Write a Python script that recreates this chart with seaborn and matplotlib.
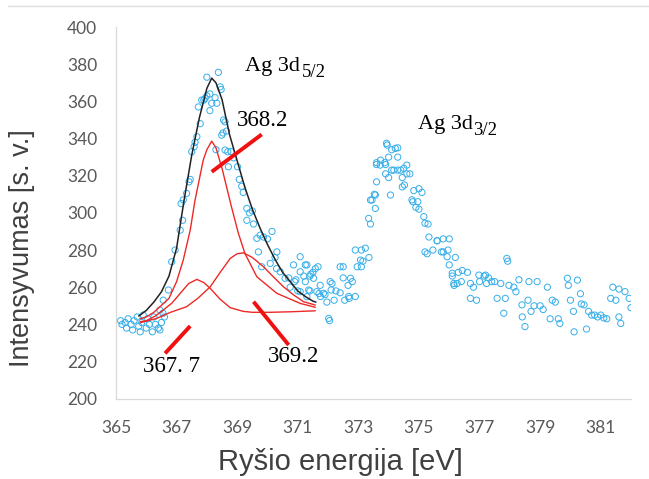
import numpy as np
import pandas as pd
import matplotlib
matplotlib.use("Agg")
import matplotlib.pyplot as plt
import seaborn as sns
from matplotlib.lines import Line2D

# ---- measured points (binding energy, intensity) ----
pts_x = [
    365.15, 365.2, 365.3, 365.35, 365.4, 365.5, 365.55, 365.6, 365.7, 365.75, 365.8, 365.85, 365.9,
    366.0, 366.05, 366.1, 366.2, 366.25, 366.3, 366.4, 366.45, 366.5, 366.55, 366.6,
    366.45, 366.56, 366.73, 366.84, 366.95, 367.12, 367.2, 367.15, 367.22, 367.33, 367.41, 367.45,
    367.5, 367.58, 367.61, 367.67, 367.72, 367.78, 367.83, 367.9, 367.94, 368.0, 368.0, 368.1,
    368.1, 368.16, 368.27, 368.3, 368.33, 368.38, 368.44, 368.47, 368.49, 368.53, 368.55, 368.6,
    368.6, 368.65, 368.69, 368.71, 368.8, 368.88, 369.01, 369.07, 369.15, 369.2, 369.32, 369.32,
    369.4, 369.5, 369.54, 369.65, 369.7, 369.76, 369.81, 369.87, 370.0, 370.09, 370.15, 370.25,
    370.3, 370.31, 370.42, 370.58, 370.7, 370.75, 370.86, 370.9, 370.94, 371.0, 371.08, 371.08,
    371.08, 371.2, 371.25, 371.25, 371.3, 371.3, 371.36, 371.4, 371.4, 371.43, 371.5, 371.52,
    371.58, 371.63, 371.67, 371.7, 371.74, 371.75, 371.85, 371.9, 371.96, 372.02, 372.05, 372.07,
    372.1, 372.13, 372.2, 372.26, 372.4, 372.4, 372.5, 372.5, 372.55, 372.66, 372.68, 372.7,
    372.74, 372.8, 372.9, 372.9, 372.96, 373.07, 373.1, 373.1, 373.15, 373.23, 373.35, 373.34,
    373.4, 373.4, 373.45, 373.53, 373.56, 373.56, 373.6, 373.6, 373.6, 373.72, 373.73, 373.87,
    373.9, 373.9, 373.93, 373.95, 374.0, 374.0, 374.06, 374.1, 374.1, 374.17, 374.22, 374.3,
    374.3, 374.3, 374.4, 374.45, 374.45, 374.5, 374.52, 374.6, 374.6, 374.7, 374.77, 374.8,
    374.83, 374.9, 374.96, 375.0, 375.0, 375.1, 375.16, 375.2, 375.2, 375.27, 375.3, 375.33,
    375.46, 375.6, 375.6, 375.74, 375.8, 375.8, 375.93, 375.96, 376.0, 376.0, 376.1, 376.1,
    376.15, 376.16, 376.2, 376.26, 376.3, 376.4, 376.43, 376.6, 376.7, 376.7, 376.8, 376.9,
    376.98, 377.0, 377.15, 377.2, 377.23, 377.3, 377.4, 377.5, 377.58, 377.7, 377.8, 377.85,
    377.9, 377.93, 377.97, 378.13, 378.2, 378.3, 378.4, 378.41, 378.5, 378.6, 378.63, 378.7,
    378.8, 378.9, 379.0, 379.1, 379.24, 379.33, 379.4, 379.5, 379.6, 379.65, 379.9, 379.93,
    380.0, 380.1, 380.12, 380.23, 380.33, 380.36, 380.45, 380.53, 380.6, 380.7, 380.8, 380.9,
    381.0, 381.1, 381.2, 381.33, 381.4, 381.5, 381.6, 381.6, 381.66, 381.8, 381.94, 382.0,
]
pts_y = [
    242, 240, 241, 238, 243, 240, 237, 242, 244, 239, 236, 241, 245,
    238, 243, 240, 236, 244, 240, 238, 237, 241, 246, 244,
    247.7, 253, 258.5, 273.7, 280, 290.7, 296, 305, 307, 310.5, 316.7, 318,
    332.9, 335.6, 338, 341, 357, 348, 360.7, 360.7, 361.6, 373, 363, 364,
    355, 359, 362, 334, 359, 375.6, 367.8, 366.4, 341.8, 343, 350, 349,
    333.8, 344, 332.9, 324.8, 333, 329.6, 324.8, 318, 314.3, 311, 302.4, 296,
    300, 301, 294, 286.3, 279, 288, 271, 287, 286, 272.8, 290, 276,
    270, 279, 268.3, 264.8, 265, 260, 272, 263, 264, 258, 276.4, 268.3,
    257.6, 266, 272, 263, 272, 254.9, 258.5, 266, 258, 267, 268, 264.8,
    270, 257.6, 271, 256.6, 261, 255, 256.7, 256, 252, 243.2, 242, 263,
    258.5, 262, 253, 258, 257, 271, 265, 271, 253, 261, 255, 254,
    264.8, 263, 280, 255, 271, 274.6, 280, 271, 274, 281, 276, 297,
    294, 306.9, 306.9, 310, 309.6, 302.4, 316.7, 326, 327, 325.7, 328.4, 327,
    326, 321, 337.4, 336.5, 330, 319, 309.6, 334, 323, 323, 334.7, 335,
    330, 323, 323, 319, 314, 324, 315, 325.7, 321, 321, 307, 306,
    312, 303, 306, 302, 313, 311, 298, 294.4, 279, 278, 294, 287,
    280, 285, 285, 279, 286, 279, 276.4, 280, 286, 272, 267.5, 266,
    262, 261, 276, 262, 268, 263, 269, 268, 262, 254, 260, 253,
    266.5, 263, 266, 266.5, 262, 265, 263, 263, 254, 262, 246, 254,
    275.5, 274, 261, 260, 257.6, 264, 250.5, 244, 238.8, 253, 263, 247,
    250, 263, 250, 248, 260, 243, 253, 252, 243, 240.5, 264.8, 261,
    253, 247, 236, 263.8, 256.5, 251, 250.5, 237.5, 247, 245, 245, 244,
    245, 243.5, 243, 254, 260, 253, 259, 244, 240.5, 257.6, 254, 249,
]

# ---- fitted curves ----
env_x = [365.75, 366.0, 366.25, 366.5, 366.75, 367.0, 367.25, 367.5, 367.75, 368.0, 368.16,
         368.3, 368.5, 368.75, 369.0, 369.25, 369.5, 369.75, 370.0, 370.25, 370.5, 370.75,
         371.0, 371.25, 371.5, 371.6]
env_y = [244.5, 247.5, 252, 257.5, 266, 281, 307, 331, 351, 367, 372.5,
         370, 361, 342, 328, 314, 302, 292, 283, 275, 268, 263,
         258, 255, 252.5, 252]

p682_x = [365.8, 366.0, 366.25, 366.45, 366.75, 367.0, 367.22, 367.45, 367.61, 367.75, 367.88,
          368.0, 368.16, 368.3, 368.5, 368.8, 369.04, 369.26, 369.65, 370.31, 371.08, 371.58]
p682_y = [243, 244, 246.5, 249.5, 254, 263, 274.6, 290.7, 306.9, 318, 328.4,
          334, 338.6, 335, 324, 304, 289, 278, 265.6, 256.7, 251.3, 249.2]

p677_x = [365.8, 366.0, 366.3, 366.56, 366.85, 367.12, 367.4, 367.67, 367.9, 368.11, 368.44,
          368.77, 369.2, 369.5, 370.09, 370.8, 371.58]
p677_y = [241.4, 242, 244.5, 247.7, 251.5, 256.7, 262, 264.2, 262.5, 259.4, 253.5,
          249, 247, 246.5, 246.5, 246.8, 247.3]

p692_x = [365.8, 366.34, 366.8, 367.33, 367.7, 368.11, 368.44, 368.77, 369.0, 369.21, 369.5,
          369.87, 370.2, 370.53, 370.85, 371.19, 371.58]
p692_y = [240.9, 243.2, 246.5, 249.5, 254, 260.2, 268, 275.5, 278, 278.5, 276,
          271, 265.5, 260.2, 256, 252.2, 250.4]

x_ticks = [365, 367, 369, 371, 373, 375, 377, 379, 381]
y_ticks = [200, 220, 240, 260, 280, 300, 320, 340, 360, 380, 400]

# annotations: label, text position, red pointer line
ann_labels = ["368.2", "367. 7", "369.2"]
ann_text_xy = [(369.0, 349.7), (365.9, 217.6), (370.02, 222.7)]
ann_line_x = [(369.81, 368.16), (366.62, 367.45), (369.54, 370.7)]
ann_line_y = [(342.2, 322.1), (224.4, 239.1), (252.2, 228.9)]

peak_names = ["Ag 3d", "Ag 3d"]
peak_subs = ["5/2", "3/2"]
peak_main_xy = [(369.26, 378.9), (374.98, 347.8)]
peak_sub_xy = [(371.12, 375.3), (376.78, 344.4)]

sns.set_theme(style="white")
plt.rcParams["font.family"] = ["Liberation Sans", "DejaVu Sans"]

fig = plt.figure(figsize=(6.49, 4.79), dpi=100)
ax = fig.add_axes([0.1787, 0.1676, 0.9723 - 0.1787, 0.9436 - 0.1676])

pts = pd.DataFrame({"x": pts_x, "y": pts_y})
sns.scatterplot(data=pts, x="x", y="y", ax=ax, marker="o", s=20,
                facecolors="none", edgecolor="#35aeea", linewidth=0.7, zorder=2)

red = "#ec2a26"
for cx, cy in [(p682_x, p682_y), (p677_x, p677_y), (p692_x, p692_y)]:
    sns.lineplot(x=cx, y=cy, ax=ax, color=red, linewidth=1.0, zorder=3)
sns.lineplot(x=env_x, y=env_y, ax=ax, color="#222222", linewidth=1.1, zorder=4)

for lx, ly in zip(ann_line_x, ann_line_y):
    ax.add_line(Line2D(lx, ly, color="#f01010", linewidth=2.8, zorder=5, solid_capstyle="butt"))

serif = ["Liberation Serif", "DejaVu Serif"]
for lab, (tx, ty) in zip(ann_labels, ann_text_xy):
    ax.text(tx, ty, lab, fontsize=16.5, family=serif, color="black", va="center", ha="left")

for name, sub, (mx, my), (sx, sy) in zip(peak_names, peak_subs, peak_main_xy, peak_sub_xy):
    ax.text(mx, my, name, fontsize=16, family=serif, color="black", va="center", ha="left")
    ax.text(sx, sy, sub, fontsize=13.5, family=serif, color="black", va="center", ha="left")

ax.set_xlim(365, 382)
ax.set_ylim(200, 400)
ax.set_xticks(x_ticks)
ax.set_yticks(y_ticks)
ax.tick_params(axis="x", labelsize=12.5, length=3, width=0.8, direction="out", pad=12, color="#d9d9d9")
ax.tick_params(axis="y", labelsize=12.5, length=0, pad=13.5)
for t in ax.get_xticklabels() + ax.get_yticklabels():
    t.set_color("#595959")
    t.set_family(["Lato", "DejaVu Sans"])

for side in ["top", "right"]:
    ax.spines[side].set_visible(False)
for side in ["left", "bottom"]:
    ax.spines[side].set_color("#d9d9d9")
    ax.spines[side].set_linewidth(0.9)

ax.set_xlabel("Ryšio energija [eV]", fontsize=21, color="#404040")
ax.set_ylabel("Intensyvumas [s. v.]", fontsize=19.5, color="#404040")
ax.xaxis.set_label_coords(0.435, -0.169)
ax.yaxis.set_label_coords(-0.1825, 0.405)
ax.xaxis.label.set_va("center")
ax.yaxis.label.set_va("center")
ax.grid(False)

fig.add_artist(Line2D([8 / 649, 1.0], [1 - 6 / 479, 1 - 6 / 479], color="#dddddd", linewidth=1.0))

fig.savefig("out.png", dpi=100)
